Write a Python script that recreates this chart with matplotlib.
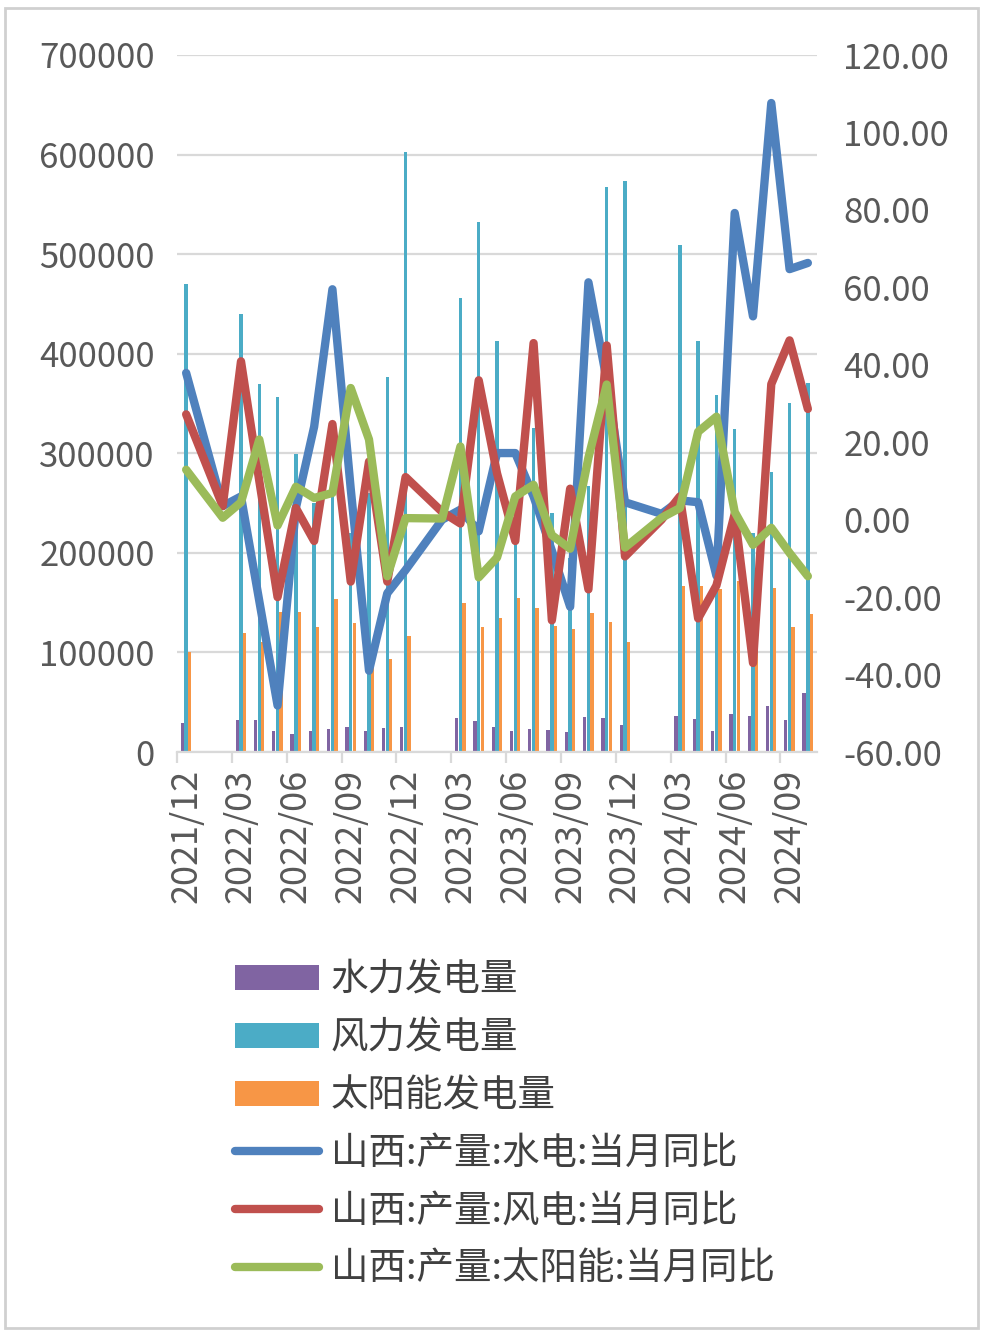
import numpy as np
import matplotlib.pyplot as plt
from matplotlib.patches import Rectangle

plt.rcParams['font.family'] = ['Noto Sans CJK SC', 'DejaVu Sans']

# bar data (monthly output), Jan/Feb not reported
bar_months = ['2021/12',
              '2022/03', '2022/04', '2022/05', '2022/06', '2022/07', '2022/08', '2022/09', '2022/10', '2022/11', '2022/12',
              '2023/03', '2023/04', '2023/05', '2023/06', '2023/07', '2023/08', '2023/09', '2023/10', '2023/11', '2023/12',
              '2024/03', '2024/04', '2024/05', '2024/06', '2024/07', '2024/08', '2024/09', '2024/10']
hydro = [29000,
         32000, 32000, 21500, 18000, 21500, 23000, 25000, 21500, 24000, 25000,
         34000, 31000, 25500, 21500, 23000, 22000, 20500, 35000, 34000, 27000,
         36000, 33000, 21500, 38000, 36000, 46000, 32000, 59500]
wind = [470000,
        440000, 370000, 357000, 299000, 250000, 270000, 220000, 260000, 377000, 603000,
        456000, 532000, 413000, 255000, 325000, 240000, 195000, 267000, 567000, 573000,
        509000, 413000, 359000, 324000, 220000, 281000, 351000, 371000]
solar = [100000,
         120000, 110000, 141000, 141000, 126000, 154000, 130000, 100000, 93000, 116000,
         150000, 126000, 135000, 155000, 145000, 127000, 124000, 140000, 130500, 110000,
         167000, 167000, 164000, 172000, 150000, 164500, 126000, 139000]

# year-on-year lines (Jan+Feb reported together as Feb)
line_months = ['2021/12',
               '2022/02', '2022/03', '2022/04', '2022/05', '2022/06', '2022/07', '2022/08', '2022/09', '2022/10', '2022/11', '2022/12',
               '2023/02', '2023/03', '2023/04', '2023/05', '2023/06', '2023/07', '2023/08', '2023/09', '2023/10', '2023/11', '2023/12',
               '2024/02', '2024/03', '2024/04', '2024/05', '2024/06', '2024/07', '2024/08', '2024/09', '2024/10']
hydro_yoy = [37.9,
             3.5, 6.0, -21.0, -48.0, 3.0, 24.0, 59.5, 8.0, -39.0, -19.0, -13.0,
             0.0, 2.6, -3.0, 17.2, 17.2, 6.0, -8.0, -22.5, 61.3, 36.0, 4.5,
             1.5, 5.0, 4.5, -14.5, 79.2, 52.5, 107.6, 64.7, 66.3]
wind_yoy = [27.2,
            3.5, 40.9, 10.0, -20.0, 3.0, -5.5, 24.7, -16.0, 15.0, -16.0, 11.0,
            2.0, -1.0, 36.0, 12.0, -5.5, 45.6, -26.0, 8.0, -18.0, 45.0, -9.5,
            0.0, 6.0, -25.5, -17.0, 1.5, -37.0, 35.0, 46.3, 28.6]
solar_yoy = [12.9,
             0.5, 4.5, 20.7, -1.5, 8.5, 5.6, 6.9, 34.0, 20.7, -14.6, 0.4,
             0.3, 18.9, -14.9, -9.8, 6.0, 9.0, -4.0, -7.5, 16.0, 34.9, -7.2,
             0.5, 3.0, 22.7, 26.6, 2.0, -6.5, -2.1, -8.6, -14.6]

tick_labels = ['2021/12', '2022/03', '2022/06', '2022/09', '2022/12', '2023/03',
               '2023/06', '2023/09', '2023/12', '2024/03', '2024/06', '2024/09']


def month_pos(s):
    y, m = s.split('/')
    return (int(y) - 2021) * 12 + int(m) - 12


xb = np.array([month_pos(s) for s in bar_months])
xl = np.array([month_pos(s) for s in line_months])
xt = np.array([month_pos(s) for s in tick_labels])

W, H = 983, 1334
fig = plt.figure(figsize=(W / 100, H / 100), dpi=100)
ax = fig.add_axes([177 / W, 1 - 752 / H, 640 / W, 697 / H])

txt = '#595959'
grid = '#d9d9d9'

bw = 0.18
ax.bar(xb - 0.21, hydro, bw, color='#8064a2', label='水力发电量', zorder=2)
ax.bar(xb, wind, bw, color='#4bacc6', label='风力发电量', zorder=2)
ax.bar(xb + 0.19, solar, bw, color='#f79646', label='太阳能发电量', zorder=2)

ax.set_xlim(-0.5, 34.5)
ax.set_ylim(0, 700000)
ax.set_yticks(np.arange(0, 700001, 100000))
ax.yaxis.grid(True, color=grid, lw=1.6, zorder=0)
ax.set_axisbelow(True)
for s in ['top', 'left', 'right']:
    ax.spines[s].set_visible(False)
ax.spines['bottom'].set_color(grid)
ax.spines['bottom'].set_linewidth(1.6)
ax.tick_params(axis='y', length=0, pad=16, labelsize=25, labelcolor=txt)

ax.set_xticks(np.arange(-0.5, 33, 3))
ax.set_xticklabels([])
ax.tick_params(axis='x', which='major', length=8, width=1.6, color=grid)
ax.set_xticks(xt, minor=True)
ax.set_xticklabels(tick_labels, minor=True, rotation=90)
ax.tick_params(axis='x', which='minor', length=0, pad=12, labelsize=26, labelcolor=txt)

ax2 = ax.twinx()
ax2.plot(xl, hydro_yoy, color='#4f81bd', lw=6, solid_joinstyle='round', solid_capstyle='round',
         label='山西:产量:水电:当月同比', zorder=3)
ax2.plot(xl, wind_yoy, color='#c0504d', lw=6, solid_joinstyle='round', solid_capstyle='round',
         label='山西:产量:风电:当月同比', zorder=4)
ax2.plot(xl, solar_yoy, color='#9bbb59', lw=6, solid_joinstyle='round', solid_capstyle='round',
         label='山西:产量:太阳能:当月同比', zorder=5)
ax2.set_ylim(-60, 120)
ax2.set_yticks(np.arange(-60, 121, 20))
ax2.set_yticklabels(['%.2f' % v for v in np.arange(-60, 121, 20)])
for s in ax2.spines.values():
    s.set_visible(False)
ax2.tick_params(axis='y', length=0, pad=19, labelsize=25, labelcolor=txt)

h1, l1 = ax.get_legend_handles_labels()
h2, l2 = ax2.get_legend_handles_labels()
fig.legend(h1 + h2, l1 + l2, loc='upper left', bbox_to_anchor=(235 / W, 1 - 961 / H),
           frameon=False, fontsize=27, labelcolor='#404040', borderpad=0, borderaxespad=0,
           handlelength=2.25, handleheight=0.65, handletextpad=0.3, labelspacing=0.5)

fig.patches.append(Rectangle((5 / W, 1 - 1328 / H), 973 / W, 1320 / H, transform=fig.transFigure,
                             fill=False, edgecolor='#d0d0d0', lw=2))

fig.savefig('out.png', dpi=100)
